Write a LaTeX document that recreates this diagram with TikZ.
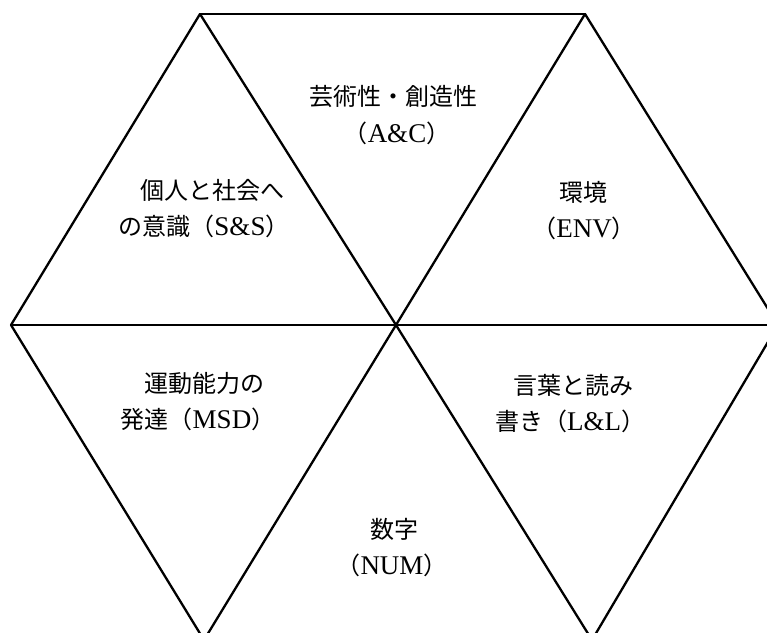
\documentclass[tikz,border=0pt]{standalone}
\usepackage{fontspec}
\setmainfont{Liberation Serif}
\newfontfamily\cjk{Noto Sans CJK JP}
\newcommand{\lat}[1]{{\fontsize{27}{30}\selectfont #1}}
\begin{document}
\begin{tikzpicture}[x=1pt,y=-1pt,
  edge/.style={line width=2.3pt, line cap=round, line join=round},
  lbl/.style={inner sep=0pt, anchor=center, font=\fontsize{24}{28}\selectfont}]
\useasboundingbox (0,0) rectangle (767,632);
\clip (0,0) rectangle (767,632);
\coordinate (TL) at (200,14);
\coordinate (TR) at (585,14);
\coordinate (L) at (11,325);
\coordinate (C) at (396,325);
\coordinate (R) at (778,325);
\coordinate (BL) at (204,640);
\coordinate (BR) at (592,640);
\draw[edge] (TL) -- (TR);
\draw[edge] (TL) -- (L);
\draw[edge] (TL) -- (C);
\draw[edge] (TR) -- (C);
\draw[edge] (TR) -- (R);
\draw[edge] (L) -- (C);
\draw[edge] (C) -- (R);
\draw[edge] (L) -- (BL);
\draw[edge] (C) -- (BL);
\draw[edge] (C) -- (BR);
\draw[edge] (R) -- (BR);
% labels
\node[lbl] (ac1) at (393,97) {\cjk 芸術性・創造性};
\node[lbl] (ac2) at (397,133) {{\cjk （}\lat{A\&C}{\cjk ）}};
\node[lbl] (ss1) at (212,190) {\cjk 個人と社会へ};
\node[lbl] (ss2) at (204,226) {{\cjk の意識（}\lat{S\&S}{\cjk ）}};
\node[lbl] (env1) at (583,192) {\cjk 環境};
\node[lbl] (env2) at (584,228) {{\cjk （}\lat{ENV}{\cjk ）}};
\node[lbl] (msd1) at (204,383) {\cjk 運動能力の};
\node[lbl] (msd2) at (198,419) {{\cjk 発達（}\lat{MSD}{\cjk ）}};
\node[lbl] (ll1) at (573,385) {\cjk 言葉と読み};
\node[lbl] (ll2) at (570,421) {{\cjk 書き（}\lat{L\&L}{\cjk ）}};
\node[lbl] (num1) at (394,529) {\cjk 数字};
\node[lbl] (num2) at (392,565) {{\cjk （}\lat{NUM}{\cjk ）}};
\end{tikzpicture}
\end{document}
